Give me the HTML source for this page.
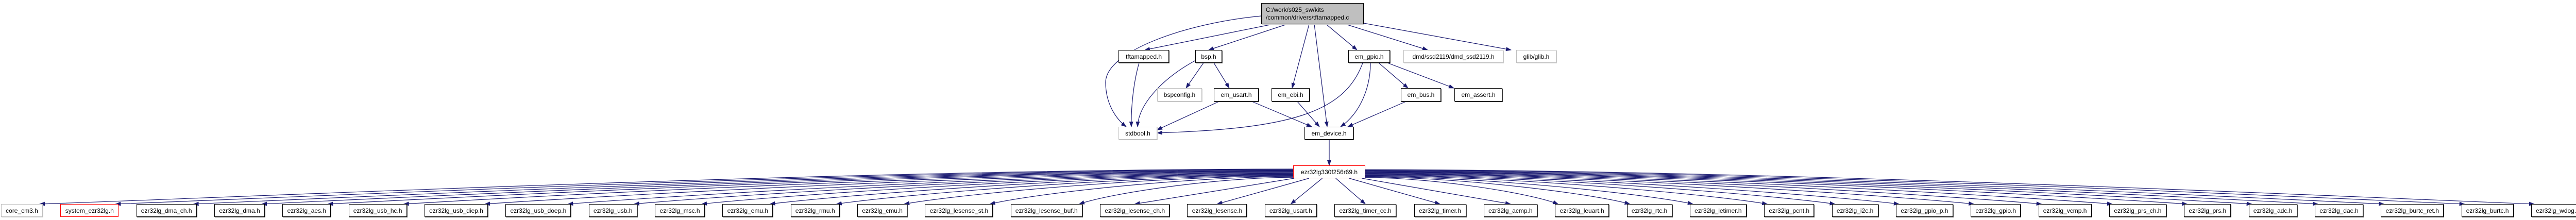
<!DOCTYPE html>
<html><head><meta charset="utf-8"><style>
html,body{margin:0;padding:0;background:#fff;width:5023px;height:427px;overflow:hidden;}
#root{position:relative;width:5023px;height:427px;overflow:hidden;font-family:"Liberation Sans",sans-serif;}
.box{position:absolute;box-sizing:border-box;border:1px solid #000;background:#fff;font-size:12px;color:#000;display:flex;align-items:center;justify-content:center;white-space:nowrap;box-shadow:1px 1px 0 #444;overflow:hidden;}
.gray{border-color:#bfbfbf;box-shadow:1px 1px 0 #ccc;}
.red{border-color:#ff0000;box-shadow:none;}
svg{position:absolute;left:0;top:0;}
</style></head><body>
<div id="root">
<svg id="edges" width="5023" height="427">
<defs><marker id="ah" markerWidth="11" markerHeight="8" refX="10" refY="4" orient="auto" markerUnits="userSpaceOnUse"><path d="M0,0 L11,4 L0,8 z" fill="#191970"/></marker></defs>
<g id="upper" fill="none" stroke="#191970" stroke-width="1.2" marker-end="url(#ah)">
<path d="M2470,47 L2222,97"/>
<path d="M2498,47 L2346,97"/>
<path d="M2541,47 L2508,171"/>
<path d="M2551,47 L2576,246"/>
<path d="M2574,47 L2634,97"/>
<path d="M2612,47 L2771,97"/>
<path d="M2647,45 L2933,97"/>
<path d="M2448,31 C2300,45 2146,100 2146,160 C2146,200 2165,230 2186,246"/>
<path d="M2211,122 C2200,160 2195,210 2196,246"/>
<path d="M2321,117 C2260,150 2210,200 2208,246"/>
<path d="M2336,122 L2302,171"/>
<path d="M2356,122 L2386,171"/>
<path d="M2645,122 C2610,220 2500,250 2246,258"/>
<path d="M2660,122 C2660,170 2640,220 2602,246"/>
<path d="M2676,122 L2733,171"/>
<path d="M2693,122 L2822,171"/>
<path d="M2366,197 L2246,252"/>
<path d="M2430,197 L2546,246"/>
<path d="M2518,197 L2561,246"/>
<path d="M2729,197 L2616,246"/>
<path d="M2580,271 L2580,321"/>
</g>
<g id="lower" fill="none" stroke="#191970" stroke-width="1.2"></g>
</svg>
<div class="box gray" style="left:2448px;top:6px;width:199px;height:41px;background:#bfbfbf;border-color:#000;justify-content:flex-start;padding-left:8px;line-height:15px;white-space:normal;">C:/work/s025_sw/kits<br>/common/drivers/tftamapped.c</div>
<div class="box" style="left:2171px;top:97px;width:98px;height:25px;">tftamapped.h</div>
<div class="box" style="left:2320px;top:97px;width:52px;height:25px;">bsp.h</div>
<div class="box" style="left:2617px;top:97px;width:81px;height:25px;">em_gpio.h</div>
<div class="box gray" style="left:2724px;top:97px;width:194px;height:25px;">dmd/ssd2119/dmd_ssd2119.h</div>
<div class="box gray" style="left:2943px;top:97px;width:78px;height:25px;">glib/glib.h</div>
<div class="box gray" style="left:2246px;top:171px;width:87px;height:26px;">bspconfig.h</div>
<div class="box" style="left:2356px;top:171px;width:87px;height:26px;">em_usart.h</div>
<div class="box" style="left:2468px;top:171px;width:74px;height:26px;">em_ebi.h</div>
<div class="box" style="left:2719px;top:171px;width:78px;height:26px;">em_bus.h</div>
<div class="box" style="left:2823px;top:171px;width:93px;height:26px;">em_assert.h</div>
<div class="box gray" style="left:2171px;top:246px;width:75px;height:25px;">stdbool.h</div>
<div class="box" style="left:2532px;top:246px;width:95px;height:25px;">em_device.h</div>
<div class="box red" id="chip" style="left:2510px;top:321px;width:140px;height:25px;">ezr32lg330f256r69.h</div>
</div>
<script>
const labels = ["core_cm3.h","system_ezr32lg.h","ezr32lg_dma_ch.h","ezr32lg_dma.h","ezr32lg_aes.h","ezr32lg_usb_hc.h","ezr32lg_usb_diep.h","ezr32lg_usb_doep.h","ezr32lg_usb.h","ezr32lg_msc.h","ezr32lg_emu.h","ezr32lg_rmu.h","ezr32lg_cmu.h","ezr32lg_lesense_st.h","ezr32lg_lesense_buf.h","ezr32lg_lesense_ch.h","ezr32lg_lesense.h","ezr32lg_usart.h","ezr32lg_timer_cc.h","ezr32lg_timer.h","ezr32lg_acmp.h","ezr32lg_leuart.h","ezr32lg_rtc.h","ezr32lg_letimer.h","ezr32lg_pcnt.h","ezr32lg_i2c.h","ezr32lg_gpio_p.h","ezr32lg_gpio.h","ezr32lg_vcmp.h","ezr32lg_prs_ch.h","ezr32lg_prs.h","ezr32lg_adc.h","ezr32lg_dac.h","ezr32lg_burtc_ret.h","ezr32lg_burtc.h","ezr32lg_wdog.h"];
const kinds = ["gray","red"];
const root = document.getElementById('root');
const g = document.getElementById('lower');
const NS = 'http://www.w3.org/2000/svg';
const ctx = document.createElement('canvas').getContext('2d');
ctx.font = '12px "Liberation Sans", sans-serif';
const X0 = 2, X1 = 5016;
let widths = labels.map(function(t){ return Math.ceil(ctx.measureText(t).width) + 18; });
let total = widths.reduce(function(a, b){ return a + b; }, 0);
const minGap = 20;
if (total + minGap * (labels.length - 1) > X1 - X0) {
  const k = (X1 - X0 - minGap * (labels.length - 1)) / total;
  widths = widths.map(function(w){ return Math.floor(w * k); });
  total = widths.reduce(function(a, b){ return a + b; }, 0);
}
const gap = (X1 - X0 - total) / (labels.length - 1);
let x = X0;
const rects = [];
labels.forEach(function(t, i){
  const d = document.createElement('div');
  d.className = 'box' + (i < kinds.length ? ' ' + kinds[i] : '');
  d.textContent = t;
  d.style.left = x + 'px';
  d.style.top = '396px';
  d.style.width = widths[i] + 'px';
  d.style.height = '25px';
  
  
  root.appendChild(d);
  rects.push([x, x + widths[i]]);
  x += widths[i] + gap;
});
const cx = 2580, bot0 = 346, L = 2510, R = 2650;
rects.forEach(function(r){
  const tc = (r[0] + r[1]) / 2;
  const dx = tc - cx;
  let s, e, path;
  if (Math.abs(dx) < 450) {
    s = [cx + dx * 0.18, bot0];
    e = [tc, 396];
    path = 'M' + s[0] + ',' + s[1] + ' L' + e[0] + ',' + e[1];
  } else {
    const far = Math.min(1, (Math.abs(dx) - 450) / 2100);
    const sy = 345 - far * 17;
    if (dx < 0) { s = [L, sy]; e = [r[1] - 6, 396]; }
    else { s = [R, sy]; e = [r[0] + 6, 396]; }
    const c1 = [s[0] + (e[0] - s[0]) * 0.35, s[1]];
    const c2 = [e[0] + (s[0] - e[0]) * 0.15, e[1] - 12 - 10 * (1 - far)];
    path = 'M' + s[0] + ',' + s[1] + ' C' + c1[0] + ',' + c1[1] + ' ' + c2[0] + ',' + c2[1] + ' ' + e[0] + ',' + e[1];
  }
  const p = document.createElementNS(NS, 'path');
  p.setAttribute('d', path);
  p.setAttribute('marker-end', 'url(#ah)');
  
  
  g.appendChild(p);
});
</script>
</body></html>
